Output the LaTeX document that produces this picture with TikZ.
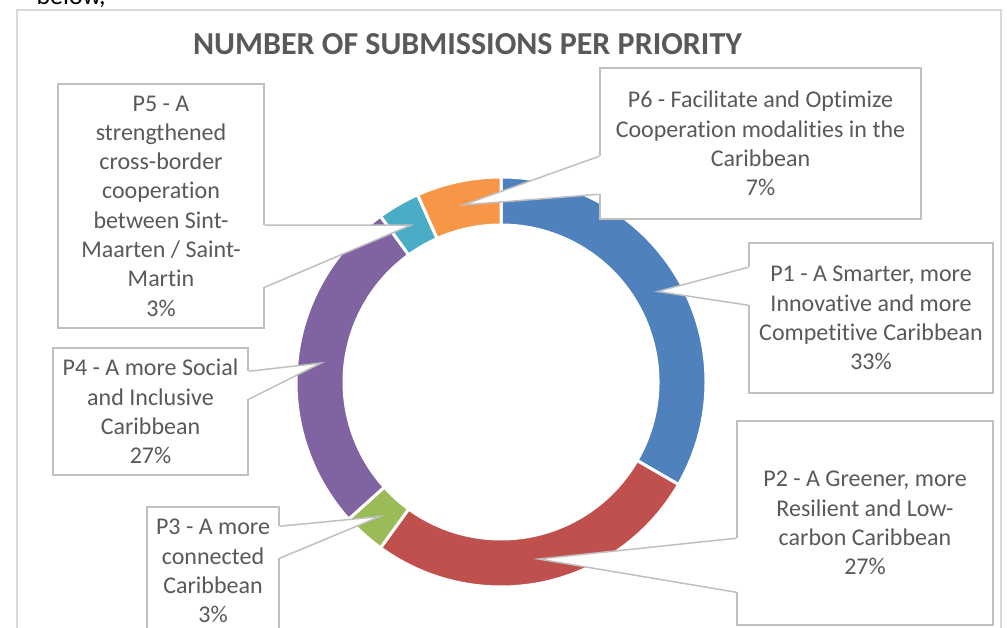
\documentclass[tikz,border=0pt]{standalone}
\usepackage{fontspec}
\setmainfont{Carlito}[Ligatures={NoCommon,NoContextual}]
\definecolor{pblue}{HTML}{4F81BD}
\definecolor{pred}{HTML}{C0504D}
\definecolor{pgreen}{HTML}{9BBB59}
\definecolor{ppurple}{HTML}{8064A2}
\definecolor{paqua}{HTML}{4BACC6}
\definecolor{porange}{HTML}{F79646}
\definecolor{boxgray}{HTML}{BFBFBF}
\definecolor{framegray}{HTML}{D9D9D9}
\definecolor{txtgray}{HTML}{595959}
\tikzset{
  seg/.style={draw=white, line width=3pt, line join=miter},
  lbl/.style={draw=boxgray, line width=1.5pt, fill=white, text=txtgray, align=center, inner sep=0pt,
    font=\fontsize{24}{29.3}\selectfont},
  ptr/.style={draw=boxgray, fill=white, line width=1.5pt},
  gap/.style={draw=white, line width=2.6pt}
}
\begin{document}
\begin{tikzpicture}[x=1pt,y=1pt]
\useasboundingbox (0,0) rectangle (1007,628);
\clip (0,0) rectangle (1007,628);
\node[anchor=base west, font=\fontsize{26}{30}\selectfont] (doc) at (33,623) {below,};
\draw[framegray, line width=1.5pt] (17,618) rectangle (1001,-10);
\node[anchor=base, text=txtgray, font=\bfseries\fontsize{32}{38}\selectfont] (title) at (467.5,573) {NUMBER OF SUBMISSIONS PER PRIORITY};

\coordinate (c) at (501,246);
\filldraw[seg, fill=pblue] (c) ++(90:205pt) arc[start angle=90, end angle=-30, radius=205pt] -- ++(-30:-48pt) arc[start angle=-30, end angle=90, radius=157pt] -- cycle;
\filldraw[seg, fill=pred] (c) ++(-30:205pt) arc[start angle=-30, end angle=-126, radius=205pt] -- ++(-126:-48pt) arc[start angle=-126, end angle=-30, radius=157pt] -- cycle;
\filldraw[seg, fill=pgreen] (c) ++(-126:205pt) arc[start angle=-126, end angle=-138, radius=205pt] -- ++(-138:-48pt) arc[start angle=-138, end angle=-126, radius=157pt] -- cycle;
\filldraw[seg, fill=ppurple] (c) ++(222:205pt) arc[start angle=222, end angle=126, radius=205pt] -- ++(126:-48pt) arc[start angle=126, end angle=222, radius=157pt] -- cycle;
\filldraw[seg, fill=paqua] (c) ++(126:205pt) arc[start angle=126, end angle=114, radius=205pt] -- ++(114:-48pt) arc[start angle=114, end angle=126, radius=157pt] -- cycle;
\filldraw[seg, fill=porange] (c) ++(114:205pt) arc[start angle=114, end angle=90, radius=205pt] -- ++(90:-48pt) arc[start angle=90, end angle=114, radius=157pt] -- cycle;

\path (c) ++(30:181pt) coordinate (t1);
\path (c) ++(-78:181pt) coordinate (t2);
\path (c) ++(-132:181pt) coordinate (t3);
\path (c) ++(174:181pt) coordinate (t4);
\path (c) ++(120:181pt) coordinate (t5);
\path (c) ++(102:181pt) coordinate (t6);

\node[lbl, minimum width=244pt, minimum height=150pt] (p1) at (871,310) {P1 - A Smarter, more\\Innovative and more\\Competitive Caribbean\\33\%};
\node[lbl, minimum width=256pt, minimum height=204pt] (p2) at (865,105) {P2 - A Greener, more\\Resilient and Low-\\carbon Caribbean\\27\%};
\node[lbl, minimum width=132pt, minimum height=128pt] (p3) at (213,57) {P3 - A more\\connected\\Caribbean\\3\%};
\node[lbl, minimum width=195pt, minimum height=127pt] (p4) at (150.5,216.5) {P4 - A more Social\\and Inclusive\\Caribbean\\27\%};
\node[lbl, minimum width=206pt, minimum height=244pt] (p5) at (161,422) {P5 - A\\strengthened\\cross-border\\cooperation\\between Sint-\\Maarten / Saint-\\Martin\\3\%};
\node[lbl, minimum width=321pt, minimum height=151pt] (p6) at (760.5,484.5) {P6 - Facilitate and Optimize\\Cooperation modalities in the\\Caribbean\\7\%};

\draw[gap] ([yshift=-25pt]p1.north west) -- ([yshift=-63pt]p1.north west);
\filldraw[ptr] ([yshift=-25pt]p1.north west) -- (t1) -- ([yshift=-63pt]p1.north west);
\draw[gap] ([yshift=-118pt]p2.north west) -- ([yshift=-172pt]p2.north west);
\filldraw[ptr] ([yshift=-118pt]p2.north west) -- (t2) -- ([yshift=-172pt]p2.north west);
\draw[gap] ([yshift=-20pt]p3.north east) -- ([yshift=-52pt]p3.north east);
\filldraw[ptr] ([yshift=-20pt]p3.north east) -- (t3) -- ([yshift=-52pt]p3.north east);
\draw[gap] ([yshift=-24pt]p4.north east) -- ([yshift=-52pt]p4.north east);
\filldraw[ptr] ([yshift=-24pt]p4.north east) -- (t4) -- ([yshift=-52pt]p4.north east);
\draw[gap] ([yshift=-142pt]p5.north east) -- ([yshift=-204pt]p5.north east);
\filldraw[ptr] ([yshift=-142pt]p5.north east) -- (t5) -- ([yshift=-204pt]p5.north east);
\draw[gap] ([yshift=-89pt]p6.north west) -- ([yshift=-127pt]p6.north west);
\filldraw[ptr] ([yshift=-89pt]p6.north west) -- (t6) -- ([yshift=-127pt]p6.north west);
\end{tikzpicture}
\end{document}
